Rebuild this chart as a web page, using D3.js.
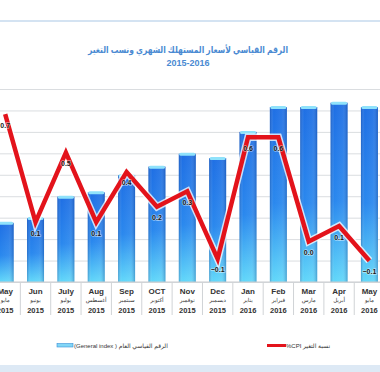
<!DOCTYPE html>
<html>
<head>
<meta charset="utf-8">
<script src="https://cdn.jsdelivr.net/npm/d3@7"></script>
<style>
body { margin: 0; background: #fff; }
svg { display: block; font-family: "Liberation Sans", "DejaVu Sans", sans-serif; }
</style>
</head>
<body>
<div id="chart"></div>
<script>
var monthsEn = ["May", "Jun", "July", "Aug", "Sep", "OCT", "Nov", "Dec", "Jan", "Feb", "Mar", "Apr", "May"];
var monthsAr = ["مايو", "يونيو", "يوليو", "أغسطس", "سبتمبر", "أكتوبر", "نوفمبر", "ديسمبر", "يناير", "فبراير", "مارس", "أبريل", "مايو"];
var years = ["2015", "2015", "2015", "2015", "2015", "2015", "2015", "2015", "2016", "2016", "2016", "2016", "2016"];
var generalIndex = [105.38, 105.49, 105.99, 106.09, 106.49, 106.69, 106.99, 106.89, 107.50, 108.08, 108.08, 108.18, 108.08];
var cpiChange = [0.67, 0.11, 0.47, 0.11, 0.37, 0.19, 0.27, -0.08, 0.55, 0.55, 0.01, 0.09, -0.09];
var indexTicks = [104, 104.5, 105, 105.5, 106, 106.5, 107, 107.5, 108, 108.5];
var titleAr = "الرقم القياسي لأسعار المستهلك الشهري ونسب التغير";
var titleYears = "2015-2016";
var legendIndex = "(General index ) الرقم القياسي العام";
var legendCpi = "%CPI نسبة التغير";

var W = 380, H = 372;
var plot = {left: -10, right: 384.6, top: 89, bottom: 282};

var svg = d3.select("#chart")
    .append("svg")
    .attr("width", W)
    .attr("height", H);

var defs = svg.append("defs");

var grad = defs.append("linearGradient")
    .attr("id", "barGrad")
    .attr("x1", 0).attr("y1", 0).attr("x2", 0).attr("y2", 1);
grad.append("stop").attr("offset", "0%").attr("stop-color", "#1f6fe4");
grad.append("stop").attr("offset", "55%").attr("stop-color", "#2a88ee");
grad.append("stop").attr("offset", "100%").attr("stop-color", "#62d8fa");

var shade = defs.append("linearGradient")
    .attr("id", "barShade")
    .attr("x1", 0).attr("y1", 0).attr("x2", 1).attr("y2", 0);
shade.append("stop").attr("offset", "0%").attr("stop-color", "#0a2a70").attr("stop-opacity", 0.3);
shade.append("stop").attr("offset", "22%").attr("stop-color", "#ffffff").attr("stop-opacity", 0);
shade.append("stop").attr("offset", "70%").attr("stop-color", "#ffffff").attr("stop-opacity", 0.06);
shade.append("stop").attr("offset", "100%").attr("stop-color", "#0a2a70").attr("stop-opacity", 0.3);

// frame lines
svg.append("line")
    .attr("x1", 0).attr("x2", W)
    .attr("y1", 21).attr("y2", 21)
    .attr("stroke", "#a9c8e6")
    .attr("stroke-width", 1.2);

svg.append("rect")
    .attr("x", 0).attr("y", 365)
    .attr("width", W).attr("height", 7)
    .attr("fill", "#dde9f5");

// title
svg.append("text")
    .attr("x", 188).attr("y", 53)
    .attr("text-anchor", "middle")
    .attr("font-size", "9.5px")
    .attr("font-weight", "bold")
    .attr("fill", "#4a8ad2")
    .attr("textLength", 200)
    .attr("lengthAdjust", "spacingAndGlyphs")
    .text(titleAr);

svg.append("text")
    .attr("x", 188).attr("y", 65.5)
    .attr("text-anchor", "middle")
    .attr("font-size", "9px")
    .attr("font-weight", "bold")
    .attr("fill", "#4a8ad2")
    .text(titleYears);

var idx = d3.range(monthsEn.length);

var x = d3.scaleBand()
    .domain(idx)
    .range([plot.left, plot.right])
    .paddingInner(0.44)
    .paddingOuter(0.22);

var y = d3.scaleLinear()
    .domain([104, 108.5])
    .range([plot.bottom, plot.top]);

var y2 = d3.scaleLinear()
    .domain([-0.2, 0.8])
    .range([plot.bottom, plot.top]);

function cx(i) {
    return x(i) + x.bandwidth() / 2;
}

// grid
var grid = svg.append("g")
    .attr("class", "grid")
    .attr("transform", "translate(" + plot.left + ",0)")
    .call(d3.axisLeft(y).tickValues(indexTicks).tickSize(-(plot.right - plot.left)).tickFormat(""));
grid.select(".domain").remove();
grid.selectAll(".tick line")
    .attr("stroke", "#dadde0")
    .attr("stroke-width", 1);

// bars
var bars = svg.append("g").selectAll("g")
    .data(idx)
    .enter().append("g");

bars.append("rect")
    .attr("x", function (i) { return x(i); })
    .attr("y", function (i) { return y(generalIndex[i]); })
    .attr("width", x.bandwidth())
    .attr("height", function (i) { return plot.bottom - y(generalIndex[i]); })
    .attr("fill", "url(#barGrad)");

bars.append("rect")
    .attr("x", function (i) { return x(i); })
    .attr("y", function (i) { return y(generalIndex[i]); })
    .attr("width", x.bandwidth())
    .attr("height", function (i) { return plot.bottom - y(generalIndex[i]); })
    .attr("fill", "url(#barShade)");

bars.append("rect")
    .attr("x", function (i) { return x(i) + 0.5; })
    .attr("y", function (i) { return y(generalIndex[i]) - 1; })
    .attr("width", x.bandwidth() - 1)
    .attr("height", 3)
    .attr("rx", 1.5)
    .attr("fill", "#8fe2fb");

// x axis
svg.append("line")
    .attr("x1", 0).attr("x2", W)
    .attr("y1", plot.bottom).attr("y2", plot.bottom)
    .attr("stroke", "#c8cbce");

svg.append("g").selectAll("line")
    .data(d3.range(monthsEn.length + 1))
    .enter().append("line")
    .attr("x1", function (i) { return plot.left + i * x.step(); })
    .attr("x2", function (i) { return plot.left + i * x.step(); })
    .attr("y1", plot.bottom)
    .attr("y2", 315)
    .attr("stroke", "#d0d3d6");

var labels = svg.append("g").selectAll("g")
    .data(idx)
    .enter().append("g")
    .attr("transform", function (i) { return "translate(" + cx(i) + ",0)"; })
    .attr("text-anchor", "middle");

labels.append("text")
    .attr("y", 294)
    .attr("font-size", "8px")
    .attr("font-weight", "bold")
    .attr("fill", "#333")
    .text(function (i) { return monthsEn[i]; });

labels.append("text")
    .attr("y", 302)
    .attr("font-size", "5.5px")
    .attr("fill", "#333")
    .text(function (i) { return monthsAr[i]; });

labels.append("text")
    .attr("y", 313)
    .attr("font-size", "7.5px")
    .attr("font-weight", "bold")
    .attr("fill", "#333")
    .text(function (i) { return years[i]; });

// cpi line
var valueline = d3.line()
    .x(function (i) { return cx(i); })
    .y(function (i) { return y2(cpiChange[i]); });

svg.append("path")
    .attr("d", valueline(idx))
    .attr("fill", "none")
    .attr("stroke", "#ffffff")
    .attr("stroke-opacity", 0.75)
    .attr("stroke-width", 7.5)
    .attr("stroke-linejoin", "miter");

svg.append("path")
    .attr("d", valueline(idx))
    .attr("fill", "none")
    .attr("stroke", "#e3131b")
    .attr("stroke-width", 4.5)
    .attr("stroke-linejoin", "miter");

svg.append("g").selectAll("text")
    .data(idx)
    .enter().append("text")
    .attr("x", function (i) { return cx(i); })
    .attr("y", function (i) { return y2(cpiChange[i]) + 13.5; })
    .attr("text-anchor", "middle")
    .attr("font-size", "7px")
    .attr("font-weight", "bold")
    .attr("fill", "#1a1a1a")
    .attr("stroke", "#ffffff")
    .attr("stroke-opacity", 0.5)
    .attr("stroke-width", 1.5)
    .attr("paint-order", "stroke")
    .text(function (i) { return d3.format(".1f")(cpiChange[i]); });

// legend
svg.append("rect")
    .attr("x", 57).attr("y", 343.5)
    .attr("width", 16).attr("height", 3.5)
    .attr("fill", "#82d6f6")
    .attr("stroke", "#3a8fd8")
    .attr("stroke-width", 0.6);

svg.append("text")
    .attr("x", 74).attr("y", 347.5)
    .attr("font-size", "6px")
    .attr("fill", "#333")
    .text(legendIndex);

svg.append("line")
    .attr("x1", 267).attr("x2", 286)
    .attr("y1", 345.5).attr("y2", 345.5)
    .attr("stroke", "#e3131b")
    .attr("stroke-width", 3);

svg.append("text")
    .attr("x", 286).attr("y", 347.5)
    .attr("font-size", "6px")
    .attr("fill", "#333")
    .text(legendCpi);
</script>
</body>
</html>
